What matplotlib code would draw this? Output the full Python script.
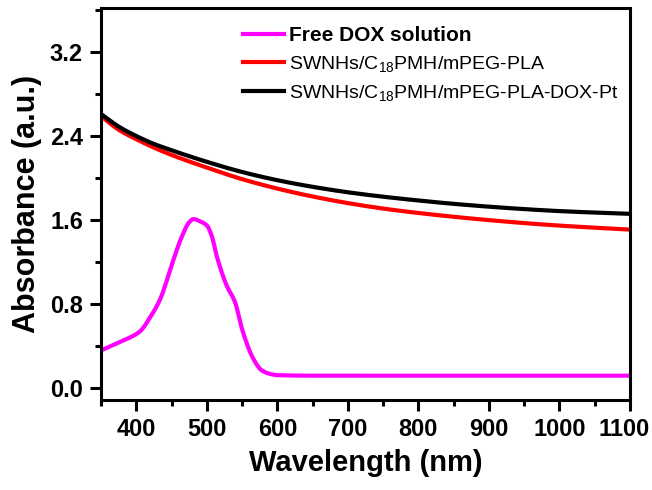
import numpy as np
import matplotlib
matplotlib.use("Agg")
import matplotlib.pyplot as plt
from matplotlib.ticker import MultipleLocator, FormatStrFormatter
from matplotlib.transforms import ScaledTranslation

plt.rcParams['font.family'] = ['Liberation Sans', 'DejaVu Sans']
plt.rcParams['mathtext.fontset'] = 'custom'
plt.rcParams['mathtext.rm'] = 'Liberation Sans'
plt.rcParams['mathtext.it'] = 'Liberation Sans:italic'
plt.rcParams['mathtext.bf'] = 'Liberation Sans:bold'

# Free DOX solution
dox_wl = [350, 380, 405, 420, 434, 450, 465, 475, 481, 490, 500, 507, 514, 528, 540, 551, 566, 578, 588, 600, 650, 700, 800, 900, 1000, 1100]
dox_abs = [0.36, 0.45, 0.54, 0.68, 0.85, 1.17, 1.45, 1.58, 1.61, 1.59, 1.55, 1.45, 1.26, 0.98, 0.82, 0.54, 0.28, 0.17, 0.14, 0.125, 0.12, 0.12, 0.12, 0.12, 0.12, 0.12]

# SWNHs/C18PMH/mPEG-PLA
red_wl = [350, 375, 400, 425, 450, 500, 550, 600, 650, 700, 750, 800, 850, 900, 950, 1000, 1050, 1100]
red_abs = [2.59, 2.46, 2.37, 2.29, 2.22, 2.10, 1.99, 1.90, 1.825, 1.762, 1.71, 1.668, 1.632, 1.60, 1.572, 1.548, 1.528, 1.51]

# SWNHs/C18PMH/mPEG-PLA-DOX-Pt
blk_wl = [350, 375, 400, 425, 450, 500, 550, 600, 650, 700, 750, 800, 850, 900, 950, 1000, 1050, 1100]
blk_abs = [2.61, 2.49, 2.40, 2.325, 2.265, 2.155, 2.058, 1.98, 1.917, 1.865, 1.823, 1.787, 1.755, 1.728, 1.705, 1.686, 1.672, 1.66]

labels = ["Free DOX solution",
          r"SWNHs/C$_{18}$PMH/mPEG-PLA",
          r"SWNHs/C$_{18}$PMH/mPEG-PLA-DOX-Pt"]

def smooth(xs, ys, n=500):
    xs = np.asarray(xs, float); ys = np.asarray(ys, float)
    xx = np.linspace(xs[0], xs[-1], n)
    h = np.diff(xs); d = np.diff(ys) / h
    m = np.zeros_like(ys)
    m[0] = d[0]; m[-1] = d[-1]
    for k in range(1, len(xs) - 1):
        if d[k-1] * d[k] <= 0:
            m[k] = 0
        else:
            w1 = 2*h[k] + h[k-1]; w2 = h[k] + 2*h[k-1]
            m[k] = (w1 + w2) / (w1/d[k-1] + w2/d[k])
    idx = np.clip(np.searchsorted(xs, xx) - 1, 0, len(xs) - 2)
    t = (xx - xs[idx]) / h[idx]
    h00 = 2*t**3 - 3*t**2 + 1; h10 = t**3 - 2*t**2 + t
    h01 = -2*t**3 + 3*t**2; h11 = t**3 - t**2
    yy = h00*ys[idx] + h10*h[idx]*m[idx] + h01*ys[idx+1] + h11*h[idx]*m[idx+1]
    return xx, yy

fig = plt.figure(figsize=(6.52, 4.9), dpi=100)
ax = fig.add_axes([0.155, 0.184, 0.811, 0.8])

x, y = smooth(dox_wl, dox_abs)
ax.plot(x, y, color='#ff00ff', lw=3, label=labels[0])
x, y = smooth(red_wl, red_abs)
ax.plot(x, y, color='#ff0000', lw=3, label=labels[1])
x, y = smooth(blk_wl, blk_abs)
ax.plot(x, y, color='black', lw=3, label=labels[2])

ax.set_xlim(350, 1100)
ax.set_ylim(-0.11, 3.62)
ax.set_xticks(np.arange(400, 1101, 100))
ax.xaxis.set_minor_locator(MultipleLocator(50))
ax.yaxis.set_major_locator(MultipleLocator(0.8))
ax.yaxis.set_minor_locator(MultipleLocator(0.4))
ax.yaxis.set_major_formatter(FormatStrFormatter('%.1f'))

for s in ax.spines.values():
    s.set_linewidth(2.2)
ax.tick_params(which='major', direction='out', length=8, width=2.2, labelsize=17)
ax.tick_params(axis='x', which='major', pad=5)
ax.tick_params(axis='y', which='major', pad=5)
ax.tick_params(which='minor', direction='out', length=4.5, width=2.2)
for lab in ax.get_xticklabels() + ax.get_yticklabels():
    lab.set_fontweight('bold')
last = ax.get_xticklabels()[-1]
last.set_transform(last.get_transform() + ScaledTranslation(-6/100, 0, fig.dpi_scale_trans))

ax.set_xlabel('Wavelength (nm)', fontsize=21, fontweight='bold', labelpad=6)
ax.set_ylabel('Absorbance (a.u.)', fontsize=22, fontweight='bold', labelpad=6)

leg = ax.legend(loc='upper left', bbox_to_anchor=(0.24, 0.99), frameon=False,
                fontsize=15, handlelength=2.0, handletextpad=0.25, labelspacing=0.42,
                borderaxespad=0.3)
texts = leg.get_texts()
texts[0].set_fontweight('bold')
texts[1].set_fontsize(14)
texts[2].set_fontsize(14)

fig.savefig('out.png', dpi=100)
